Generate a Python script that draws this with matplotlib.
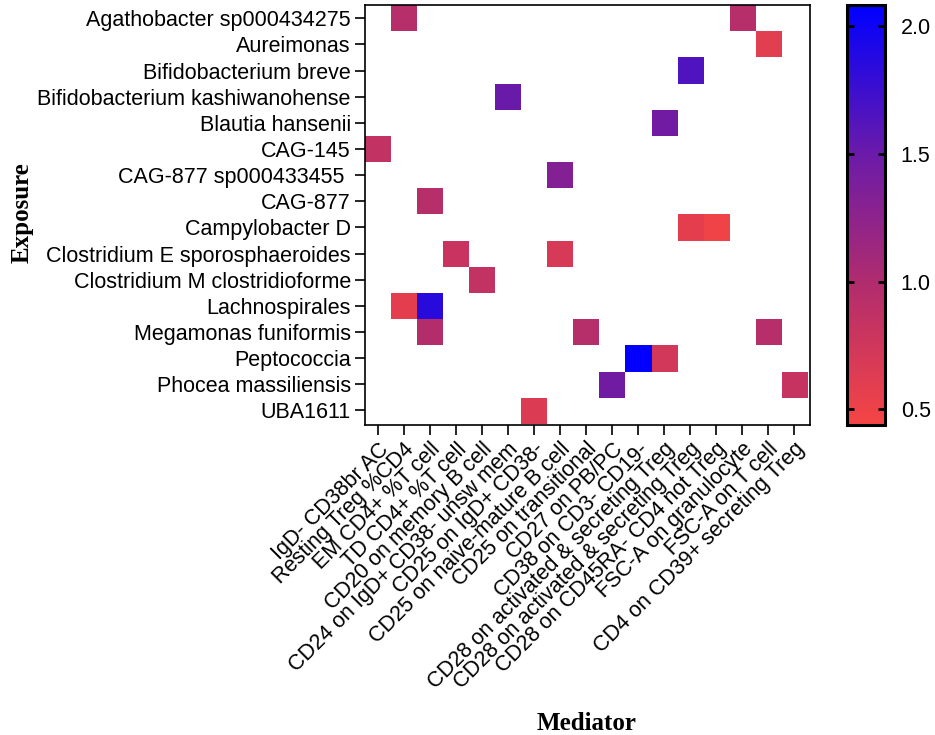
import numpy as np
import matplotlib.pyplot as plt
from matplotlib.colors import LinearSegmentedColormap

exposures = ['Agathobacter sp000434275', 'Aureimonas', 'Bifidobacterium breve',
             'Bifidobacterium kashiwanohense', 'Blautia hansenii', 'CAG-145',
             'CAG-877 sp000433455 ', 'CAG-877', 'Campylobacter D',
             'Clostridium E sporosphaeroides', 'Clostridium M clostridioforme',
             'Lachnospirales', 'Megamonas funiformis', 'Peptococcia',
             'Phocea massiliensis', 'UBA1611']

mediators = ['IgD- CD38br AC', 'Resting Treg %CD4', 'EM CD4+ %T cell',
             'TD CD4+ %T cell', 'CD20 on memory B cell',
             'CD24 on IgD+ CD38- unsw mem', 'CD25 on IgD+ CD38-',
             'CD25 on naive-mature B cell', 'CD25 on transitional',
             'CD27 on PB/PC', 'CD38 on CD3- CD19-',
             'CD28 on activated & secreting Treg',
             'CD28 on activated & secreting Treg',
             'CD28 on CD45RA- CD4 not Treg', 'FSC-A on granulocyte',
             'FSC-A on T cell', 'CD4 on CD39+ secreting Treg']

# non-empty cells: exposure index, mediator index, value
cell_exp = [0, 0, 1, 2, 3, 4, 5, 6, 7, 8, 8, 9, 9, 10, 11, 11, 12, 12, 12, 13, 13, 14, 14, 15]
cell_med = [1, 14, 15, 12, 5, 11, 0, 7, 2, 12, 13, 3, 7, 4, 1, 2, 2, 8, 15, 10, 11, 9, 16, 6]
cell_val = [0.95, 0.95, 0.60, 1.65, 1.50, 1.45, 0.85, 1.32, 0.95, 0.58, 0.48, 0.80, 0.68,
            0.85, 0.58, 1.85, 0.96, 0.95, 0.95, 2.07, 0.72, 1.45, 0.82, 0.64]

vmin, vmax = 0.44, 2.08

mat = np.full((len(exposures), len(mediators)), np.nan)
for r, c, v in zip(cell_exp, cell_med, cell_val):
    mat[r, c] = v

cmap = LinearSegmentedColormap.from_list('rb', [(0.0, '#f54545'), (0.34, '#b02c6e'),
                                                 (0.65, '#6a1aaa'), (1.0, '#0000ff')])
cmap.set_bad('white')

plt.rcParams['font.family'] = 'Liberation Sans'
fig = plt.figure(figsize=(9.35, 7.35), dpi=100)
ax = fig.add_axes([0.390, 0.422, 0.476, 0.571])
cax = fig.add_axes([0.906, 0.422, 0.041, 0.571])

im = ax.imshow(np.ma.masked_invalid(mat), cmap=cmap, vmin=vmin, vmax=vmax,
               aspect='auto', interpolation='nearest')
ax.set_xlim(-0.5, len(mediators) - 0.4)
ax.set_ylim(len(exposures) - 0.45, -0.5)

ax.set_xticks(range(len(mediators)))
ax.set_xticklabels(mediators, rotation=45, ha='right', rotation_mode='anchor', fontsize=15.5)
ax.set_yticks(range(len(exposures)))
ax.set_yticklabels(exposures, fontsize=15.5)
ax.tick_params(length=7, width=1.2, pad=3)
for s in ax.spines.values():
    s.set_linewidth(1.2)

cb = fig.colorbar(im, cax=cax)
cb.set_ticks([0.5, 1.0, 1.5, 2.0])
cb.ax.tick_params(direction='in', left=True, right=True, length=5, width=2, labelsize=15.5, pad=11)
cb.outline.set_linewidth(2.2)

fig.text(22 / 935, 1 - 213 / 735, 'Exposure', rotation=90, ha='center', va='center',
         family='Liberation Serif', weight='bold', fontsize=18)
fig.text(587 / 935, 1 - 723 / 735, 'Mediator', ha='center', va='center',
         family='Liberation Serif', weight='bold', fontsize=18)

fig.savefig('out.png', dpi=100)
